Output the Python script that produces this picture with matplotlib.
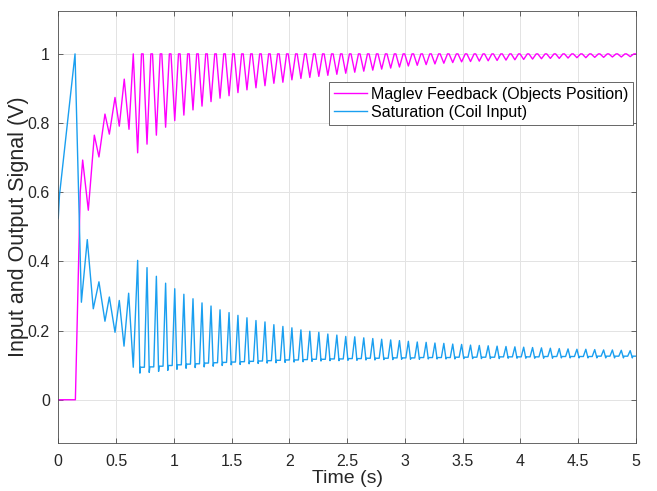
import numpy as np
import matplotlib
matplotlib.use("Agg")
import matplotlib.pyplot as plt

plt.rcParams['font.family'] = ['Liberation Sans', 'DejaVu Sans']

# Start-up transient (time in s, value in V)
maglev_t_start = [0.0, 0.148, 0.19, 0.211, 0.26, 0.312, 0.352, 0.404, 0.442,
                  0.491, 0.528, 0.571, 0.612, 0.649]
maglev_v_start = [0.0, 0.0, 0.6, 0.693, 0.548, 0.765, 0.702, 0.826, 0.768,
                  0.874, 0.791, 0.927, 0.782, 1.0]
coil_t_start = [0.0, 0.01, 0.145, 0.2, 0.251, 0.303, 0.352, 0.404, 0.442,
                0.491, 0.528, 0.569, 0.609, 0.649]
coil_v_start = [0.525, 0.59, 1.0, 0.282, 0.463, 0.263, 0.341, 0.227, 0.297,
                0.195, 0.287, 0.155, 0.308, 0.094]

# Limit-cycle oscillation: one entry per cycle (time of the coil-input peak)
cycle_t = [0.687, 0.768, 0.849, 0.929, 1.008, 1.087, 1.166, 1.244, 1.322, 1.400,
           1.478, 1.555, 1.633, 1.711, 1.789, 1.866, 1.944, 2.022, 2.100, 2.177,
           2.255, 2.333, 2.411, 2.488, 2.566, 2.644, 2.722, 2.799, 2.877, 2.953,
           3.030, 3.107, 3.184, 3.260, 3.337, 3.414, 3.491, 3.568, 3.644, 3.721,
           3.798, 3.875, 3.952, 4.028, 4.105, 4.182, 4.259, 4.336, 4.412, 4.489,
           4.566, 4.643, 4.720, 4.796, 4.873, 4.950]
maglev_trough = [0.714, 0.739, 0.765, 0.788, 0.807, 0.823, 0.838, 0.849, 0.862, 0.872,
                 0.879, 0.888, 0.896, 0.902, 0.908, 0.915, 0.918, 0.925, 0.929, 0.932,
                 0.935, 0.938, 0.941, 0.944, 0.947, 0.950, 0.953, 0.956, 0.959, 0.962,
                 0.965, 0.967, 0.969, 0.971, 0.973, 0.975, 0.977, 0.978, 0.979, 0.980,
                 0.981, 0.982, 0.983, 0.984, 0.985, 0.986, 0.987, 0.987, 0.988, 0.989,
                 0.989, 0.990, 0.990, 0.991, 0.991, 0.992]
maglev_top = 1.0
coil_peak = [0.403, 0.382, 0.357, 0.337, 0.321, 0.305, 0.292, 0.280, 0.271, 0.260,
             0.252, 0.244, 0.237, 0.229, 0.225, 0.217, 0.212, 0.208, 0.202, 0.198,
             0.195, 0.190, 0.187, 0.183, 0.182, 0.179, 0.177, 0.175, 0.173, 0.171,
             0.169, 0.167, 0.166, 0.164, 0.163, 0.161, 0.160, 0.158, 0.157, 0.156,
             0.155, 0.154, 0.153, 0.152, 0.151, 0.150, 0.149, 0.148, 0.147, 0.146,
             0.146, 0.145, 0.144, 0.144, 0.143, 0.142]
coil_min = [0.077, 0.079, 0.082, 0.085, 0.088, 0.091, 0.093, 0.095, 0.097, 0.099,
            0.101, 0.102, 0.104, 0.105, 0.106, 0.107, 0.108, 0.109, 0.110, 0.111,
            0.112, 0.113, 0.113, 0.114, 0.114, 0.115, 0.115, 0.116, 0.116, 0.117,
            0.117, 0.117, 0.118, 0.118, 0.118, 0.118, 0.119, 0.119, 0.119, 0.119,
            0.119, 0.120, 0.120, 0.120, 0.120, 0.120, 0.120, 0.121, 0.121, 0.121,
            0.121, 0.121, 0.121, 0.121, 0.121, 0.121]
coil_shelf = [0.094, 0.095, 0.097, 0.099, 0.101, 0.103, 0.104, 0.106, 0.107, 0.108,
              0.109, 0.110, 0.111, 0.112, 0.113, 0.114, 0.115, 0.115, 0.116, 0.117,
              0.117, 0.118, 0.118, 0.119, 0.119, 0.120, 0.120, 0.120, 0.121, 0.121,
              0.121, 0.122, 0.122, 0.122, 0.122, 0.123, 0.123, 0.123, 0.123, 0.123,
              0.124, 0.124, 0.124, 0.124, 0.124, 0.125, 0.125, 0.125, 0.125, 0.125,
              0.125, 0.126, 0.126, 0.126, 0.126, 0.126]

x_ticks = [0, 0.5, 1, 1.5, 2, 2.5, 3, 3.5, 4, 4.5, 5]
x_tick_labels = ['0', '0.5', '1', '1.5', '2', '2.5', '3', '3.5', '4', '4.5', '5']
y_ticks = [0, 0.2, 0.4, 0.6, 0.8, 1]
y_tick_labels = ['0', '0.2', '0.4', '0.6', '0.8', '1']


def build_traces():
    """Assemble both polylines: start-up transient followed by one
    waveform segment per oscillation cycle."""
    mt, mv = list(maglev_t_start), list(maglev_v_start)
    ct, cv = list(coil_t_start), list(coil_v_start)
    n = len(cycle_t)
    for k in range(n):
        t0 = cycle_t[k]
        period = (cycle_t[k + 1] - t0) if k + 1 < n else (t0 - cycle_t[k - 1])
        # object position: sharp trough, clipped top at 1 V
        mt += [t0, t0 + 0.41 * period, t0 + 0.59 * period]
        mv += [maglev_trough[k], maglev_top, maglev_top]
        # coil input: sharp peak, dip, then flat shelf before the next rise
        ct += [t0, t0 + 0.24 * period, t0 + 0.30 * period, t0 + 0.72 * period]
        cv += [coil_peak[k], coil_min[k], coil_shelf[k], coil_shelf[k]]
    return np.array(mt), np.array(mv), np.array(ct), np.array(cv)


mt, mv, ct, cv = build_traces()

fig = plt.figure(figsize=(6.57, 4.91), dpi=100)
ax = fig.add_axes([0.0887, 0.0978, 0.8793, 0.8805])

ax.plot(mt, mv, color='#FF00FF', lw=1.0, label='Maglev Feedback (Objects Position)')
ax.plot(ct, cv, color='#1A9FF0', lw=1.0, label='Saturation (Coil Input)')

ax.set_xlim(0, 5)
ax.set_ylim(-0.125, 1.125)
ax.set_xticks(x_ticks)
ax.set_xticklabels(x_tick_labels)
ax.set_yticks(y_ticks)
ax.set_yticklabels(y_tick_labels)

ax.grid(True, color='#E3E3E3', lw=0.7)
ax.set_axisbelow(True)
for s in ax.spines.values():
    s.set_color('#4D4D4D')
    s.set_linewidth(0.6)
ax.tick_params(direction='in', length=3.5, width=0.6, color='#4D4D4D',
               labelsize=11.5, labelcolor='#262626', top=True, right=True)
ax.tick_params(axis='x', pad=8)
ax.tick_params(axis='y', pad=6)

ax.set_xlabel('Time (s)', fontsize=14, color='#262626', labelpad=1)
ax.set_ylabel('Input and Output Signal (V)', fontsize=15.5, color='#262626', labelpad=-1)

leg = ax.legend(loc='upper right', bbox_to_anchor=(0.995, 0.835), fontsize=11.5,
                frameon=True, fancybox=False, framealpha=1, edgecolor='#4D4D4D',
                handlelength=2.05, handletextpad=0.25, borderpad=0.3, labelspacing=0.2,
                borderaxespad=0)
leg.get_frame().set_linewidth(0.6)

fig.savefig('out.png', dpi=100)
